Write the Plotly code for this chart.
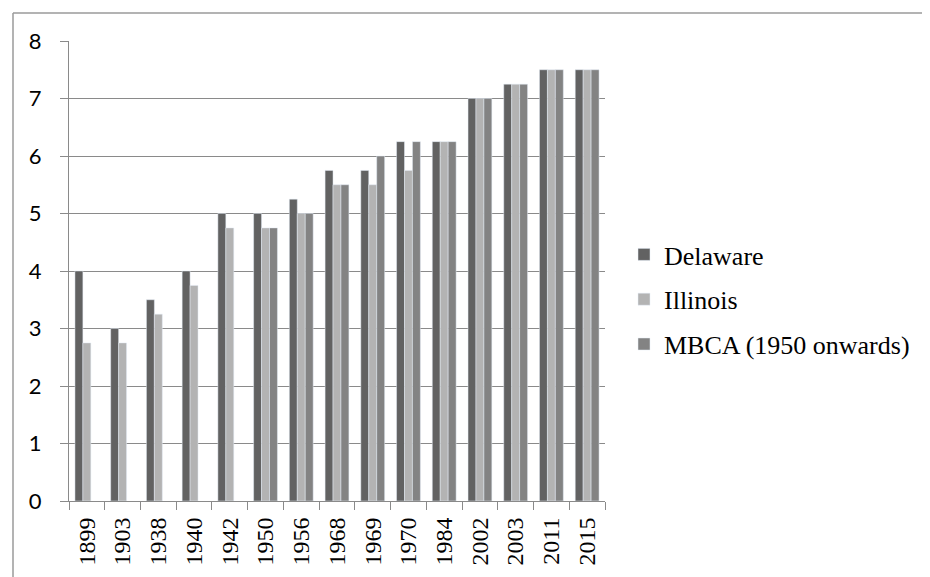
import plotly.graph_objects as go

years = ["1899", "1903", "1938", "1940", "1942", "1950", "1956", "1968",
         "1969", "1970", "1984", "2002", "2003", "2011", "2015"]
delaware = [4, 3, 3.5, 4, 5, 5, 5.25, 5.75, 5.75, 6.25, 6.25, 7, 7.25, 7.5, 7.5]
illinois = [2.75, 2.75, 3.25, 3.75, 4.75, 4.75, 5, 5.5, 5.5, 5.75, 6.25, 7, 7.25, 7.5, 7.5]
mbca = [None, None, None, None, None, 4.75, 5, 5.5, 6, 6.25, 6.25, 7, 7.25, 7.5, 7.5]
y_ticks = [0, 1, 2, 3, 4, 5, 6, 7, 8]

fig = go.Figure()
fig.add_trace(go.Bar(x=years, y=delaware, name="Delaware", marker_color="#626262",
                     legendgroup="d"))
fig.add_trace(go.Bar(x=years, y=illinois, name="Illinois", marker_color="#b3b3b3",
                     legendgroup="i"))
fig.add_trace(go.Bar(x=years, y=mbca, name="MBCA (1950 onwards)", marker_color="#838383",
                     legendgroup="m"))

W, H = 930, 577
L, R, T, B = 61, 333, 33, 84
pw, ph = W - L - R, H - T - B

def px_x(x):
    return (x - L) / pw

def px_y(y):
    return (H - B - y) / ph

fig.update_layout(
    width=W, height=H,
    margin=dict(l=L, r=R, t=T, b=B, pad=0),
    paper_bgcolor="white", plot_bgcolor="white",
    barmode="group", bargap=0.333, bargroupgap=0,
    showlegend=True,
    legend=dict(
        x=px_x(616), y=px_y(223), xanchor="left", yanchor="top",
        font=dict(family="Liberation Serif", size=26, color="black"),
        itemwidth=30, tracegroupgap=8, bgcolor="rgba(0,0,0,0)",
    ),
    xaxis=dict(
        type="category", tickangle=-90,
        tickfont=dict(family="Liberation Serif", size=24, color="black"),
        showline=True, linecolor="#8a8a8a", linewidth=1,
        ticks="outside", tickson="boundaries", ticklen=8, tickcolor="#8a8a8a",
        showgrid=False, ticklabelstandoff=6,
    ),
    yaxis=dict(
        range=[0, 8], tickvals=y_ticks,
        tickfont=dict(family="Lato", size=22, color="black"),
        showline=True, linecolor="#8a8a8a", linewidth=1,
        ticks="outside", ticklen=8, tickcolor="#8a8a8a",
        showgrid=True, gridcolor="#8a8a8a", gridwidth=1,
        zeroline=False, ticklabelstandoff=14,
    ),
    shapes=[
        dict(type="line", xref="paper", yref="paper",
             x0=px_x(5), x1=px_x(945), y0=px_y(5), y1=px_y(5),
             line=dict(color="#9a9a9a", width=1.5)),
        dict(type="line", xref="paper", yref="paper",
             x0=px_x(5), x1=px_x(5), y0=px_y(5), y1=px_y(590),
             line=dict(color="#9a9a9a", width=1.5)),
    ],
)

fig.write_html("out.html")
